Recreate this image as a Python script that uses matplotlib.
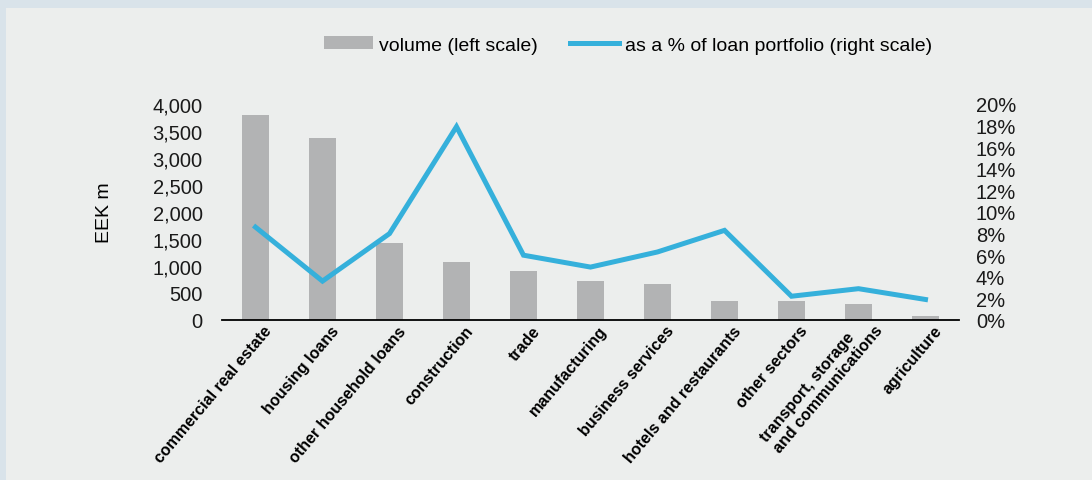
import matplotlib
matplotlib.use("Agg")
import matplotlib.pyplot as plt
from matplotlib.patches import Rectangle
from matplotlib.transforms import ScaledTranslation
from matplotlib.ticker import FuncFormatter, MultipleLocator

plt.rcParams['font.family'] = ['Liberation Sans', 'DejaVu Sans']

categories = [
    "commercial real estate", "housing loans", "other household loans",
    "construction", "trade", "manufacturing", "business services",
    "hotels and restaurants", "other sectors",
    "transport, storage\nand communications", "agriculture",
]
volume = [3800, 3370, 1430, 1080, 910, 730, 670, 350, 350, 300, 75]
share_pct = [8.6, 3.6, 8.0, 17.9, 6.0, 4.9, 6.3, 8.3, 2.2, 2.9, 1.9]

BAR_COLOR = "#b2b3b4"
LINE_COLOR = "#35b0db"
PANEL = "#eceeed"
FRAME = "#d9e3ea"

fig = plt.figure(figsize=(10.92, 4.81), dpi=100, facecolor=FRAME)
fig.patches.append(Rectangle((6 / 1092, 0), 1, 1 - 9 / 481, transform=fig.transFigure,
                             facecolor=PANEL, edgecolor="none", zorder=-10))

ax = fig.add_axes([222 / 1092, 1 - 321 / 481, 737 / 1092, 216 / 481])
ax.set_facecolor("none")
x = list(range(len(categories)))
bars = ax.bar(x, volume, width=0.4, color=BAR_COLOR, zorder=2,
              label="volume (left scale)")
ax.set_xlim(-0.5, len(categories) - 0.5)
ax.set_ylim(0, 4000)
ax.yaxis.set_major_locator(MultipleLocator(500))
ax.yaxis.set_major_formatter(FuncFormatter(lambda v, p: f"{int(v):,}"))
for s in ["top", "right", "left"]:
    ax.spines[s].set_visible(False)
ax.spines["bottom"].set_color("black")
ax.spines["bottom"].set_linewidth(1.3)
ax.tick_params(axis="y", length=0, pad=14, labelsize=14.5, colors="#1a1a1a")
ax.tick_params(axis="x", length=0, pad=0)
ax.set_xticks(x)
ax.set_xticklabels(categories, rotation=50, ha="right", va="top",
                   rotation_mode="anchor", fontsize=11.5, fontweight="bold",
                   multialignment="left")
for lab in ax.get_xticklabels():
    dx, dy = 8, -3
    if "\n" in lab.get_text():
        dx, dy = 2, 9
    lab.set_transform(lab.get_transform() + ScaledTranslation(dx / 100, dy / 100, fig.dpi_scale_trans))
ax.set_ylabel("EEK m", fontsize=14)
ax.yaxis.set_label_coords((113 - 222) / 737, 0.5)

ax2 = ax.twinx()
line, = ax2.plot(x, share_pct, color=LINE_COLOR, lw=3.6, solid_joinstyle="miter",
                 label="as a % of loan portfolio (right scale)", zorder=3)
ax2.set_ylim(0, 20)
ax2.yaxis.set_major_locator(MultipleLocator(2))
ax2.yaxis.set_major_formatter(FuncFormatter(lambda v, p: f"{int(round(v))}%"))
for s in ["top", "right", "left", "bottom"]:
    ax2.spines[s].set_visible(False)
ax2.tick_params(axis="y", length=0, pad=12.2, labelsize=14.5, colors="#1a1a1a")

fig.legend([bars, line], [bars.get_label(), line.get_label()], ncol=2,
           loc="center", bbox_to_anchor=(628 / 1092, 1 - 46 / 481),
           frameon=False, fontsize=14, handlelength=2.5, handleheight=0.6,
           handletextpad=0.3, columnspacing=1.7)

fig.savefig("out.png", dpi=100, facecolor=FRAME)
